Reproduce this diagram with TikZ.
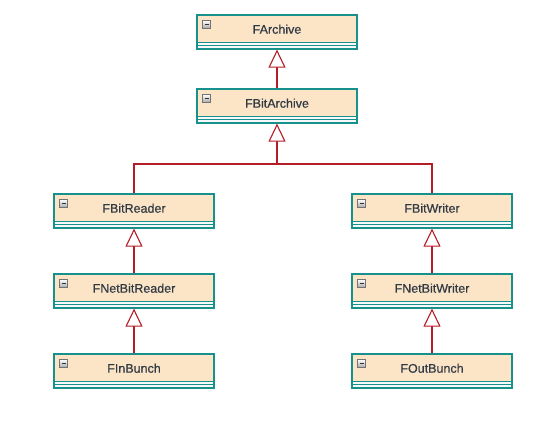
\documentclass[tikz,border=0pt]{standalone}
\usepackage{fontspec}
\setmainfont{Liberation Sans}
\newfontfamily\clsfont{Liberation Sans}[FakeBold=0.6]
\usetikzlibrary{arrows.meta}
\definecolor{hdr}{RGB}{252,229,198}
\definecolor{tealb}{RGB}{22,145,140}
\definecolor{relc}{RGB}{180,28,40}
\definecolor{txtc}{RGB}{48,58,68}
\definecolor{cmp}{RGB}{246,248,250}
\tikzset{
  umlclass/.style={rectangle, draw=tealb, line width=1.2pt, fill=cmp,
    minimum width=160pt, minimum height=34pt, inner xsep=0pt, inner ysep=0pt,
    text height=9pt, text depth=5.6pt, text=txtc,
    font=\clsfont\fontsize{12.5}{15}\selectfont,
    path picture={
      \fill[hdr] (path picture bounding box.north west) rectangle ([yshift=-27pt]path picture bounding box.north east);
      \draw[tealb, line width=0.9pt] ([yshift=-27pt]path picture bounding box.north west) -- ([yshift=-27pt]path picture bounding box.north east);
      \draw[tealb, line width=0.9pt] ([yshift=-30.5pt]path picture bounding box.north west) -- ([yshift=-30.5pt]path picture bounding box.north east);
      \shade[top color=white, bottom color=gray!70, draw=gray!90!black, line width=0.6pt]
        ([xshift=5.5pt,yshift=-5.5pt]path picture bounding box.north west) rectangle ++(8pt,-8pt);
      \draw[black!80, line width=1.3pt] ([xshift=7.5pt,yshift=-9.5pt]path picture bounding box.north west) -- ++(4pt,0pt);
    }},
  conn/.style={draw=relc, line width=1.1pt},
  inh/.style={conn, -{Triangle[fill=white, length=18pt, width=17pt]}}
}
\begin{document}
\begin{tikzpicture}[x=1pt,y=-1pt]
\useasboundingbox (0,0) rectangle (553,423);
\node[umlclass] (farch) at (277,32) {FArchive};
\node[umlclass] (fbitarch) at (277,106) {FBitArchive};
\node[umlclass] (reader) at (134,211) {FBitReader};
\node[umlclass] (writer) at (432,211) {FBitWriter};
\node[umlclass] (netreader) at (134,291) {FNetBitReader};
\node[umlclass] (netwriter) at (432,291) {FNetBitWriter};
\node[umlclass] (inbunch) at (134,371) {FInBunch};
\node[umlclass] (outbunch) at (432,371) {FOutBunch};
\coordinate (j) at (277,164);
\draw[inh] (fbitarch.north) -- (farch.south);
\draw[inh] (j) -- (fbitarch.south);
\draw[conn] (reader.north) |- (j) -| (writer.north);
\draw[inh] (netreader.north) -- (reader.south);
\draw[inh] (netwriter.north) -- (writer.south);
\draw[inh] (inbunch.north) -- (netreader.south);
\draw[inh] (outbunch.north) -- (netwriter.south);
\end{tikzpicture}
\end{document}
